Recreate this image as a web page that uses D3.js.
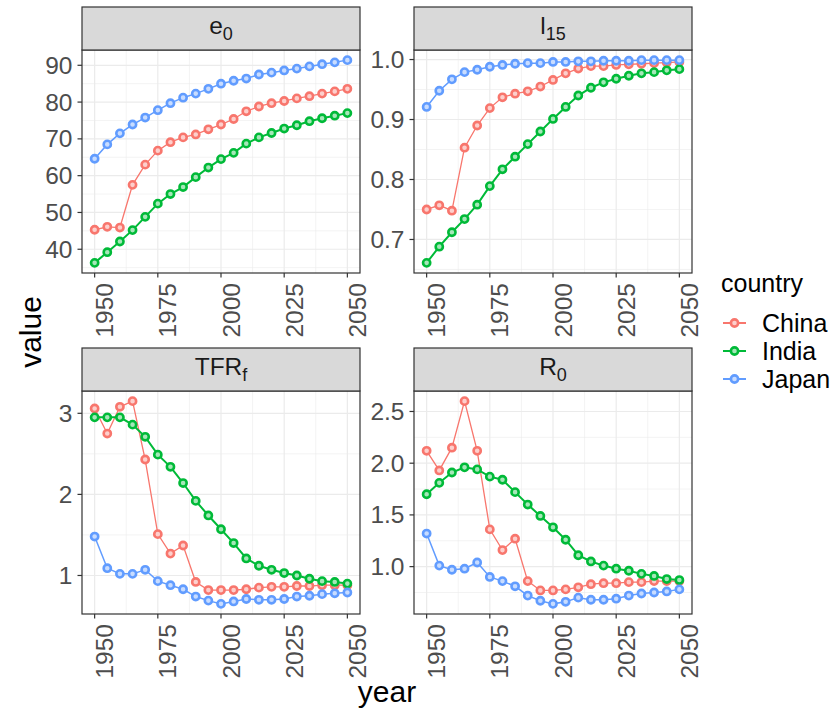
<!DOCTYPE html>
<html>
<head>
<meta charset="utf-8">
<style>
  body { margin: 0; background: #fff; }
  svg { font-family: "Liberation Sans", Arial, Helvetica, sans-serif; }
</style>
</head>
<body>
<div id="chart"></div>
<script src="https://cdn.jsdelivr.net/npm/d3@7"></script>
<script>
var width = 832, height = 715;

var years = [1950, 1955, 1960, 1965, 1970, 1975, 1980, 1985, 1990, 1995, 2000,
             2005, 2010, 2015, 2020, 2025, 2030, 2035, 2040, 2045, 2050];
var countries = ["China", "India", "Japan"];
var colors = ["#F8766D", "#00BA38", "#619CFF"];
var yearTicks = [1950, 1975, 2000, 2025, 2050];

// life expectancy at birth
var e0China = [45.3, 46.1, 45.9, 57.5, 63.0, 66.8, 69.1, 70.4, 71.2, 72.6, 73.9, 75.4, 77.5, 78.8, 79.7, 80.3, 81.0, 81.6, 82.3, 82.9, 83.6];
var e0India = [36.3, 39.2, 42.1, 45.2, 48.8, 52.4, 55.0, 56.9, 59.6, 62.2, 64.5, 66.2, 68.7, 70.4, 71.6, 72.8, 73.7, 74.8, 75.6, 76.3, 77.0];
var e0Japan = [64.6, 68.5, 71.5, 73.9, 75.8, 77.8, 79.7, 81.2, 82.3, 83.6, 85.0, 85.8, 86.4, 87.5, 88.0, 88.6, 89.1, 89.7, 90.3, 90.8, 91.4];
var e0Ticks = [40, 50, 60, 70, 80, 90];

// survival to age 15
var l15China = [0.750, 0.757, 0.748, 0.853, 0.890, 0.919, 0.937, 0.943, 0.947, 0.955, 0.966, 0.977, 0.985, 0.989, 0.989, 0.991, 0.992, 0.993, 0.994, 0.995, 0.996];
var l15India = [0.661, 0.688, 0.712, 0.734, 0.758, 0.789, 0.817, 0.838, 0.859, 0.880, 0.901, 0.921, 0.940, 0.953, 0.962, 0.968, 0.973, 0.977, 0.979, 0.982, 0.984];
var l15Japan = [0.921, 0.948, 0.967, 0.979, 0.983, 0.988, 0.991, 0.993, 0.994, 0.994, 0.996, 0.996, 0.997, 0.997, 0.998, 0.998, 0.998, 0.999, 0.999, 0.999, 0.999];
var l15Ticks = ["0.7", "0.8", "0.9", "1.0"];

// female TFR
var tfrChina = [3.06, 2.75, 3.08, 3.15, 2.43, 1.51, 1.27, 1.37, 0.92, 0.82, 0.82, 0.82, 0.83, 0.85, 0.86, 0.86, 0.87, 0.87, 0.88, 0.88, 0.88];
var tfrIndia = [2.95, 2.95, 2.95, 2.86, 2.71, 2.49, 2.34, 2.14, 1.92, 1.74, 1.57, 1.40, 1.21, 1.12, 1.07, 1.03, 1.00, 0.96, 0.93, 0.92, 0.90];
var tfrJapan = [1.48, 1.09, 1.02, 1.02, 1.07, 0.93, 0.88, 0.83, 0.74, 0.69, 0.65, 0.68, 0.71, 0.70, 0.70, 0.71, 0.74, 0.75, 0.77, 0.78, 0.79];
var tfrTicks = ["1", "2", "3"];

// net reproduction
var r0China = [2.12, 1.93, 2.15, 2.60, 2.12, 1.36, 1.16, 1.27, 0.86, 0.77, 0.77, 0.78, 0.80, 0.83, 0.84, 0.84, 0.85, 0.85, 0.86, 0.86, 0.86];
var r0India = [1.70, 1.81, 1.91, 1.96, 1.94, 1.87, 1.84, 1.72, 1.60, 1.49, 1.38, 1.26, 1.11, 1.05, 1.01, 0.98, 0.96, 0.93, 0.91, 0.88, 0.87];
var r0Japan = [1.32, 1.01, 0.97, 0.98, 1.04, 0.90, 0.86, 0.81, 0.72, 0.67, 0.64, 0.66, 0.70, 0.68, 0.68, 0.69, 0.72, 0.74, 0.75, 0.76, 0.78];
var r0Ticks = ["1.0", "1.5", "2.0", "2.5"];

var panels = [
  {main: "e",   sub: "0",  series: [e0China, e0India, e0Japan],    ticks: e0Ticks,  col: 0, row: 0},
  {main: "l",   sub: "15", series: [l15China, l15India, l15Japan], ticks: l15Ticks, col: 1, row: 0},
  {main: "TFR", sub: "f",  series: [tfrChina, tfrIndia, tfrJapan], ticks: tfrTicks, col: 0, row: 1},
  {main: "R",   sub: "0",  series: [r0China, r0India, r0Japan],    ticks: r0Ticks,  col: 1, row: 1}
];

var colX = [82, 414], rowY = [50, 391];
var panelW = 278, panelH = 223, stripH = 43;
var axisCol = "#4D4D4D", frameCol = "#333333", gridCol = "#EBEBEB";
var lineW = [1.3, 2, 1.5];

var svg = d3.select("#chart").append("svg")
  .attr("width", width).attr("height", height);

function expand(ext) {
  var pad = (ext[1] - ext[0]) * 0.05;
  return [ext[0] - pad, ext[1] + pad];
}

var x = d3.scaleLinear().domain(expand(d3.extent(years))).range([0, panelW]);
var xMinor = yearTicks.slice(1).map(function(t) { return t - 12.5; });

panels.forEach(function(p) {
  var left = colX[p.col], top = rowY[p.row];
  var all = d3.merge(p.series);
  var y = d3.scaleLinear().domain(expand(d3.extent(all))).range([panelH, 0]);
  var tickVals = p.ticks.map(Number);
  var step = tickVals[1] - tickVals[0];
  var yMinor = tickVals.map(function(t) { return t - step / 2; })
    .concat([tickVals[tickVals.length - 1] + step / 2])
    .filter(function(v) { return v >= y.domain()[0] && v <= y.domain()[1]; });

  var g = svg.append("g").attr("transform", "translate(" + left + "," + top + ")");

  // grid
  g.append("g").selectAll("line").data(xMinor).join("line")
    .attr("x1", d => x(d)).attr("x2", d => x(d)).attr("y1", 0).attr("y2", panelH)
    .attr("stroke", gridCol).attr("stroke-width", 0.6);
  g.append("g").selectAll("line").data(yMinor).join("line")
    .attr("x1", 0).attr("x2", panelW).attr("y1", d => y(d)).attr("y2", d => y(d))
    .attr("stroke", gridCol).attr("stroke-width", 0.6);
  g.append("g").selectAll("line").data(yearTicks).join("line")
    .attr("x1", d => x(d)).attr("x2", d => x(d)).attr("y1", 0).attr("y2", panelH)
    .attr("stroke", gridCol).attr("stroke-width", 1.2);
  g.append("g").selectAll("line").data(tickVals).join("line")
    .attr("x1", 0).attr("x2", panelW).attr("y1", d => y(d)).attr("y2", d => y(d))
    .attr("stroke", gridCol).attr("stroke-width", 1.2);

  // lines
  var line = d3.line().x((d, i) => x(years[i])).y(d => y(d));
  g.append("g").selectAll("path").data(p.series).join("path")
    .attr("d", line)
    .attr("fill", "none")
    .attr("stroke", (d, i) => colors[i])
    .attr("stroke-width", (d, i) => lineW[i]);

  // points
  p.series.forEach(function(s, i) {
    g.append("g").selectAll("circle").data(s).join("circle")
      .attr("cx", (d, j) => x(years[j]))
      .attr("cy", d => y(d))
      .attr("r", 3.6)
      .attr("fill", d3.interpolateRgb(colors[i], "#ffffff")(0.65))
      .attr("stroke", colors[i])
      .attr("stroke-width", 2.6);
  });

  // frame
  g.append("rect").attr("width", panelW).attr("height", panelH)
    .attr("fill", "none").attr("stroke", frameCol).attr("stroke-width", 1.2);

  // strip
  g.append("rect").attr("y", -stripH).attr("width", panelW).attr("height", stripH)
    .attr("fill", "#D9D9D9").attr("stroke", frameCol).attr("stroke-width", 1.2);
  var st = g.append("text")
    .attr("x", panelW / 2).attr("y", -stripH + 27)
    .attr("text-anchor", "middle")
    .attr("font-size", 24.5).attr("fill", "#1A1A1A");
  st.append("tspan").text(p.main);
  st.append("tspan").attr("font-size", 18).attr("dy", 5.5).text(p.sub);

  // y axis
  var ya = g.append("g");
  ya.selectAll("line").data(tickVals).join("line")
    .attr("x1", -4.5).attr("x2", 0).attr("y1", d => y(d)).attr("y2", d => y(d))
    .attr("stroke", frameCol).attr("stroke-width", 1.2);
  ya.selectAll("text").data(p.ticks).join("text")
    .attr("x", -9.5).attr("y", d => y(+d)).attr("dy", "0.35em")
    .attr("text-anchor", "end").attr("font-size", 24.5).attr("fill", axisCol)
    .text(d => d);

  // x axis
  var xa = g.append("g").attr("transform", "translate(0," + panelH + ")");
  xa.selectAll("line").data(yearTicks).join("line")
    .attr("x1", d => x(d)).attr("x2", d => x(d)).attr("y1", 0).attr("y2", 4.5)
    .attr("stroke", frameCol).attr("stroke-width", 1.2);
  xa.selectAll("text").data(yearTicks).join("text")
    .attr("transform", d => "translate(" + (x(d) + 18.5) + ",10) rotate(-90)")
    .attr("text-anchor", "end").attr("font-size", 24.5).attr("fill", axisCol)
    .text(d => d);
});

// axis titles
svg.append("text")
  .attr("x", (colX[0] + colX[1] + panelW) / 2).attr("y", 702)
  .attr("text-anchor", "middle").attr("font-size", 30).attr("fill", "#000")
  .text("year");
svg.append("text")
  .attr("transform", "translate(41," + (rowY[0] + rowY[1] + panelH) / 2 + ") rotate(-90)")
  .attr("text-anchor", "middle").attr("font-size", 30).attr("fill", "#000")
  .text("value");

// legend
var lg = svg.append("g").attr("transform", "translate(721,0)");
lg.append("text").attr("x", 0).attr("y", 292)
  .attr("font-size", 25).attr("fill", "#000").text("country");
var items = lg.selectAll("g.item").data(countries).join("g")
  .attr("transform", (d, i) => "translate(0," + (323 + i * 28) + ")");
items.append("line").attr("x1", 2).attr("x2", 25)
  .attr("stroke", (d, i) => colors[i]).attr("stroke-width", 2);
items.append("circle").attr("cx", 13.5).attr("r", 3.6)
  .attr("fill", (d, i) => d3.interpolateRgb(colors[i], "#ffffff")(0.65))
  .attr("stroke", (d, i) => colors[i]).attr("stroke-width", 2.6);
items.append("text").attr("x", 41).attr("dy", "0.35em")
  .attr("font-size", 25).attr("fill", "#000").text(d => d);
</script>
</body>
</html>
